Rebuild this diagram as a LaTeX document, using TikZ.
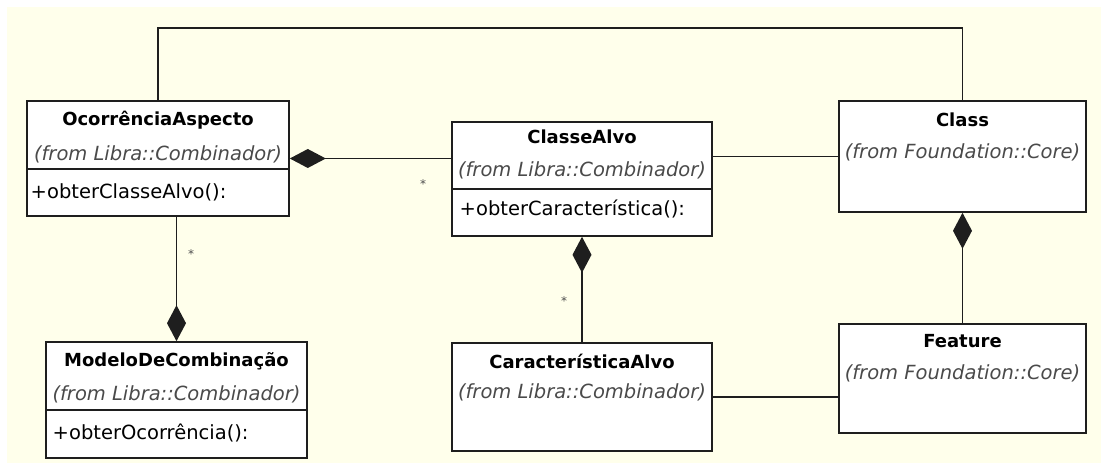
\documentclass[tikz,border=0pt]{standalone}
\usepackage{fontspec}
\setmainfont{DejaVu Sans}
\usetikzlibrary{arrows.meta}
\definecolor{bgyellow}{HTML}{FFFFEB}
\definecolor{fromgray}{HTML}{4A4A4A}
\definecolor{umlline}{HTML}{1E1E1E}
\tikzset{
  classbox/.style={draw=umlline, line width=1.6pt, fill=white, inner sep=0pt},
  classname/.style={font=\bfseries\fontsize{18}{20}\selectfont},
  fromtext/.style={text=fromgray, font=\itshape\fontsize{19.5}{21}\selectfont},
  optext/.style={anchor=west, font=\fontsize{19.5}{21}\selectfont},
  divider/.style={umlline, line width=1.5pt},
  assoc/.style={umlline, line width=1.6pt},
  comp/.style={assoc, -{Diamond[length=36pt,width=19pt]}},
  mult/.style={text=black!70, font=\fontsize{12}{12}\selectfont}
}

\begin{document}
\begin{tikzpicture}[x=1pt, y=-1pt]
    % Page and background
    \useasboundingbox (0,0) rectangle (1101,470);
    \fill[bgyellow] (7,7) rectangle (1101,463);

    % Draw the class boxes
    \node[classbox, minimum width=262pt, minimum height=115pt] (oa) at (158,158.5) {};
    \node[classbox, minimum width=260pt, minimum height=114pt] (ca) at (582,179) {};
    \node[classbox, minimum width=247pt, minimum height=111pt] (cls) at (962.5,156.5) {};
    \node[classbox, minimum width=261pt, minimum height=116pt] (mdc) at (176.5,400) {};
    \node[classbox, minimum width=260pt, minimum height=108pt] (cara) at (582,397) {};
    \node[classbox, minimum width=247pt, minimum height=109pt] (feat) at (962.5,378.5) {};

    % OcorrenciaAspecto
    \node[classname] (oa-name) at ([yshift=-20pt]oa.north) {OcorrênciaAspecto};
    \node[fromtext] (oa-from) at ([yshift=-54pt]oa.north) {(from Libra::Combinador)};
    \draw[divider] ([yshift=-69pt]oa.north west) -- ([yshift=-69pt]oa.north east);
    \node[optext] (oa-op) at ([xshift=1pt,yshift=-92pt]oa.north west) {+obterClasseAlvo():};

    % ClasseAlvo
    \node[classname] (ca-name) at ([yshift=-16pt]ca.north) {ClasseAlvo};
    \node[fromtext] (ca-from) at ([yshift=-49pt]ca.north) {(from Libra::Combinador)};
    \draw[divider] ([yshift=-68pt]ca.north west) -- ([yshift=-68pt]ca.north east);
    \node[optext] (ca-op) at ([xshift=5pt,yshift=-88pt]ca.north west) {+obterCaracterística():};

    % Class
    \node[classname] (cls-name) at ([yshift=-20pt]cls.north) {Class};
    \node[fromtext] (cls-from) at ([yshift=-52pt]cls.north) {(from Foundation::Core)};

    % ModeloDeCombinacao
    \node[classname] (mdc-name) at ([yshift=-20pt]mdc.north) {ModeloDeCombinação};
    \node[fromtext] (mdc-from) at ([yshift=-53pt]mdc.north) {(from Libra::Combinador)};
    \draw[divider] ([yshift=-69pt]mdc.north west) -- ([yshift=-69pt]mdc.north east);
    \node[optext] (mdc-op) at ([xshift=4pt,yshift=-92pt]mdc.north west) {+obterOcorrência():};

    % CaracteristicaAlvo
    \node[classname] (cara-name) at ([yshift=-19pt]cara.north) {CaracterísticaAlvo};
    \node[fromtext] (cara-from) at ([yshift=-50pt]cara.north) {(from Libra::Combinador)};

    % Feature
    \node[classname] (feat-name) at ([yshift=-18pt]feat.north) {Feature};
    \node[fromtext] (feat-from) at ([yshift=-50pt]feat.north) {(from Foundation::Core)};

    % Associations
    \coordinate (bend) at (0,28);
    \draw[assoc] (oa.north) -- (oa.north |- bend) -| (cls.north);
    \draw[assoc] (ca.east |- cls.west) -- (cls.west);
    \draw[assoc] (cara.east) -- (cara.east -| feat.west);

    % Compositions
    \draw[comp] (ca.west |- oa.east) -- (oa.east);
    \draw[comp] (oa.south -| mdc.north) -- (mdc.north);
    \draw[comp] (cara.north) -- (ca.south);
    \draw[comp] (feat.north) -- (cls.south);

    % Multiplicities
    \node[mult] (m-ca) at (423,184) {*};
    \node[mult] (m-oa) at (191,254) {*};
    \node[mult] (m-cara) at (564,301) {*};
\end{tikzpicture}
\end{document}
